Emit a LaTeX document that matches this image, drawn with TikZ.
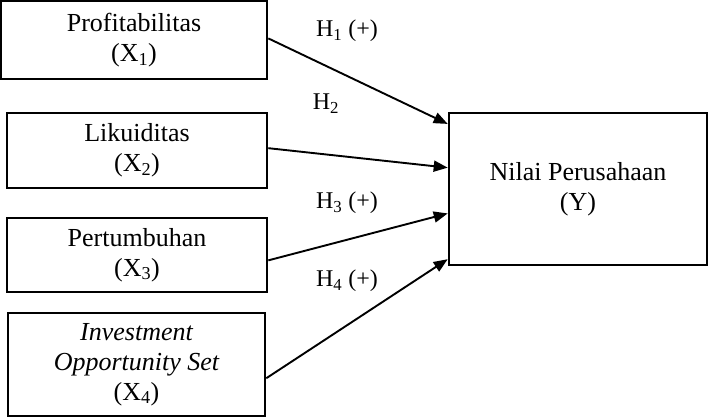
\documentclass[tikz,border=0pt]{standalone}
\usepackage{fontspec}
\setmainfont{Liberation Serif}
\usetikzlibrary{arrows.meta,calc}
\tikzset{
  varbox/.style={draw=black, line width=2.6pt, rectangle, inner sep=0pt, align=center, font=\fontsize{26}{30}\selectfont},
  hyp/.style={font=\fontsize{24}{28}\selectfont, inner sep=0pt},
  link/.style={line width=1.9pt, -{Triangle[length=14pt,width=11pt]}}
}
\begin{document}
\begin{tikzpicture}[x=1pt,y=-1pt]
\useasboundingbox (0,0) rectangle (710,418);
\node[varbox, minimum width=266pt, minimum height=78pt] (b1) at (134,40) {Profitabilitas\\(X\textsubscript{1})};
\node[varbox, minimum width=260pt, minimum height=75pt] (b2) at (137,150.5) {Likuiditas\\(X\textsubscript{2})};
\node[varbox, minimum width=260pt, minimum height=74pt] (b3) at (137,255) {Pertumbuhan\\(X\textsubscript{3})};
\node[varbox, minimum width=257pt, minimum height=103pt] (b4) at (136.5,364.5) {\itshape Investment\\\itshape Opportunity Set\\(X\textsubscript{4})};
\node[varbox, minimum width=258pt, minimum height=152pt] (y) at (578,189) {Nilai Perusahaan\\(Y)};
\coordinate (e1) at ($(y.north west)!0.079!(y.south west)$);
\coordinate (e2) at ($(y.north west)!0.362!(y.south west)$);
\coordinate (e3) at ($(y.north west)!0.658!(y.south west)$);
\coordinate (e4) at ($(y.north west)!0.954!(y.south west)$);
\coordinate (s1) at ($(b1.north east)!0.48!(b1.south east)$);
\coordinate (s2) at ($(b2.north east)!0.47!(b2.south east)$);
\coordinate (s3) at ($(b3.north east)!0.57!(b3.south east)$);
\coordinate (s4) at ($(b4.north east)!0.63!(b4.south east)$);
\draw[link] (s1) -- (e1);
\draw[link] (s2) -- (e2);
\draw[link] (s3) -- (e3);
\draw[link] (s4) -- (e4);
\node[hyp] (h1) at (347,31) {H\textsubscript{1} (+)};
\node[hyp] (h2) at (326,104) {H\textsubscript{2}};
\node[hyp] (h3) at (347,203) {H\textsubscript{3} (+)};
\node[hyp] (h4) at (347,281) {H\textsubscript{4} (+)};
\end{tikzpicture}
\end{document}
